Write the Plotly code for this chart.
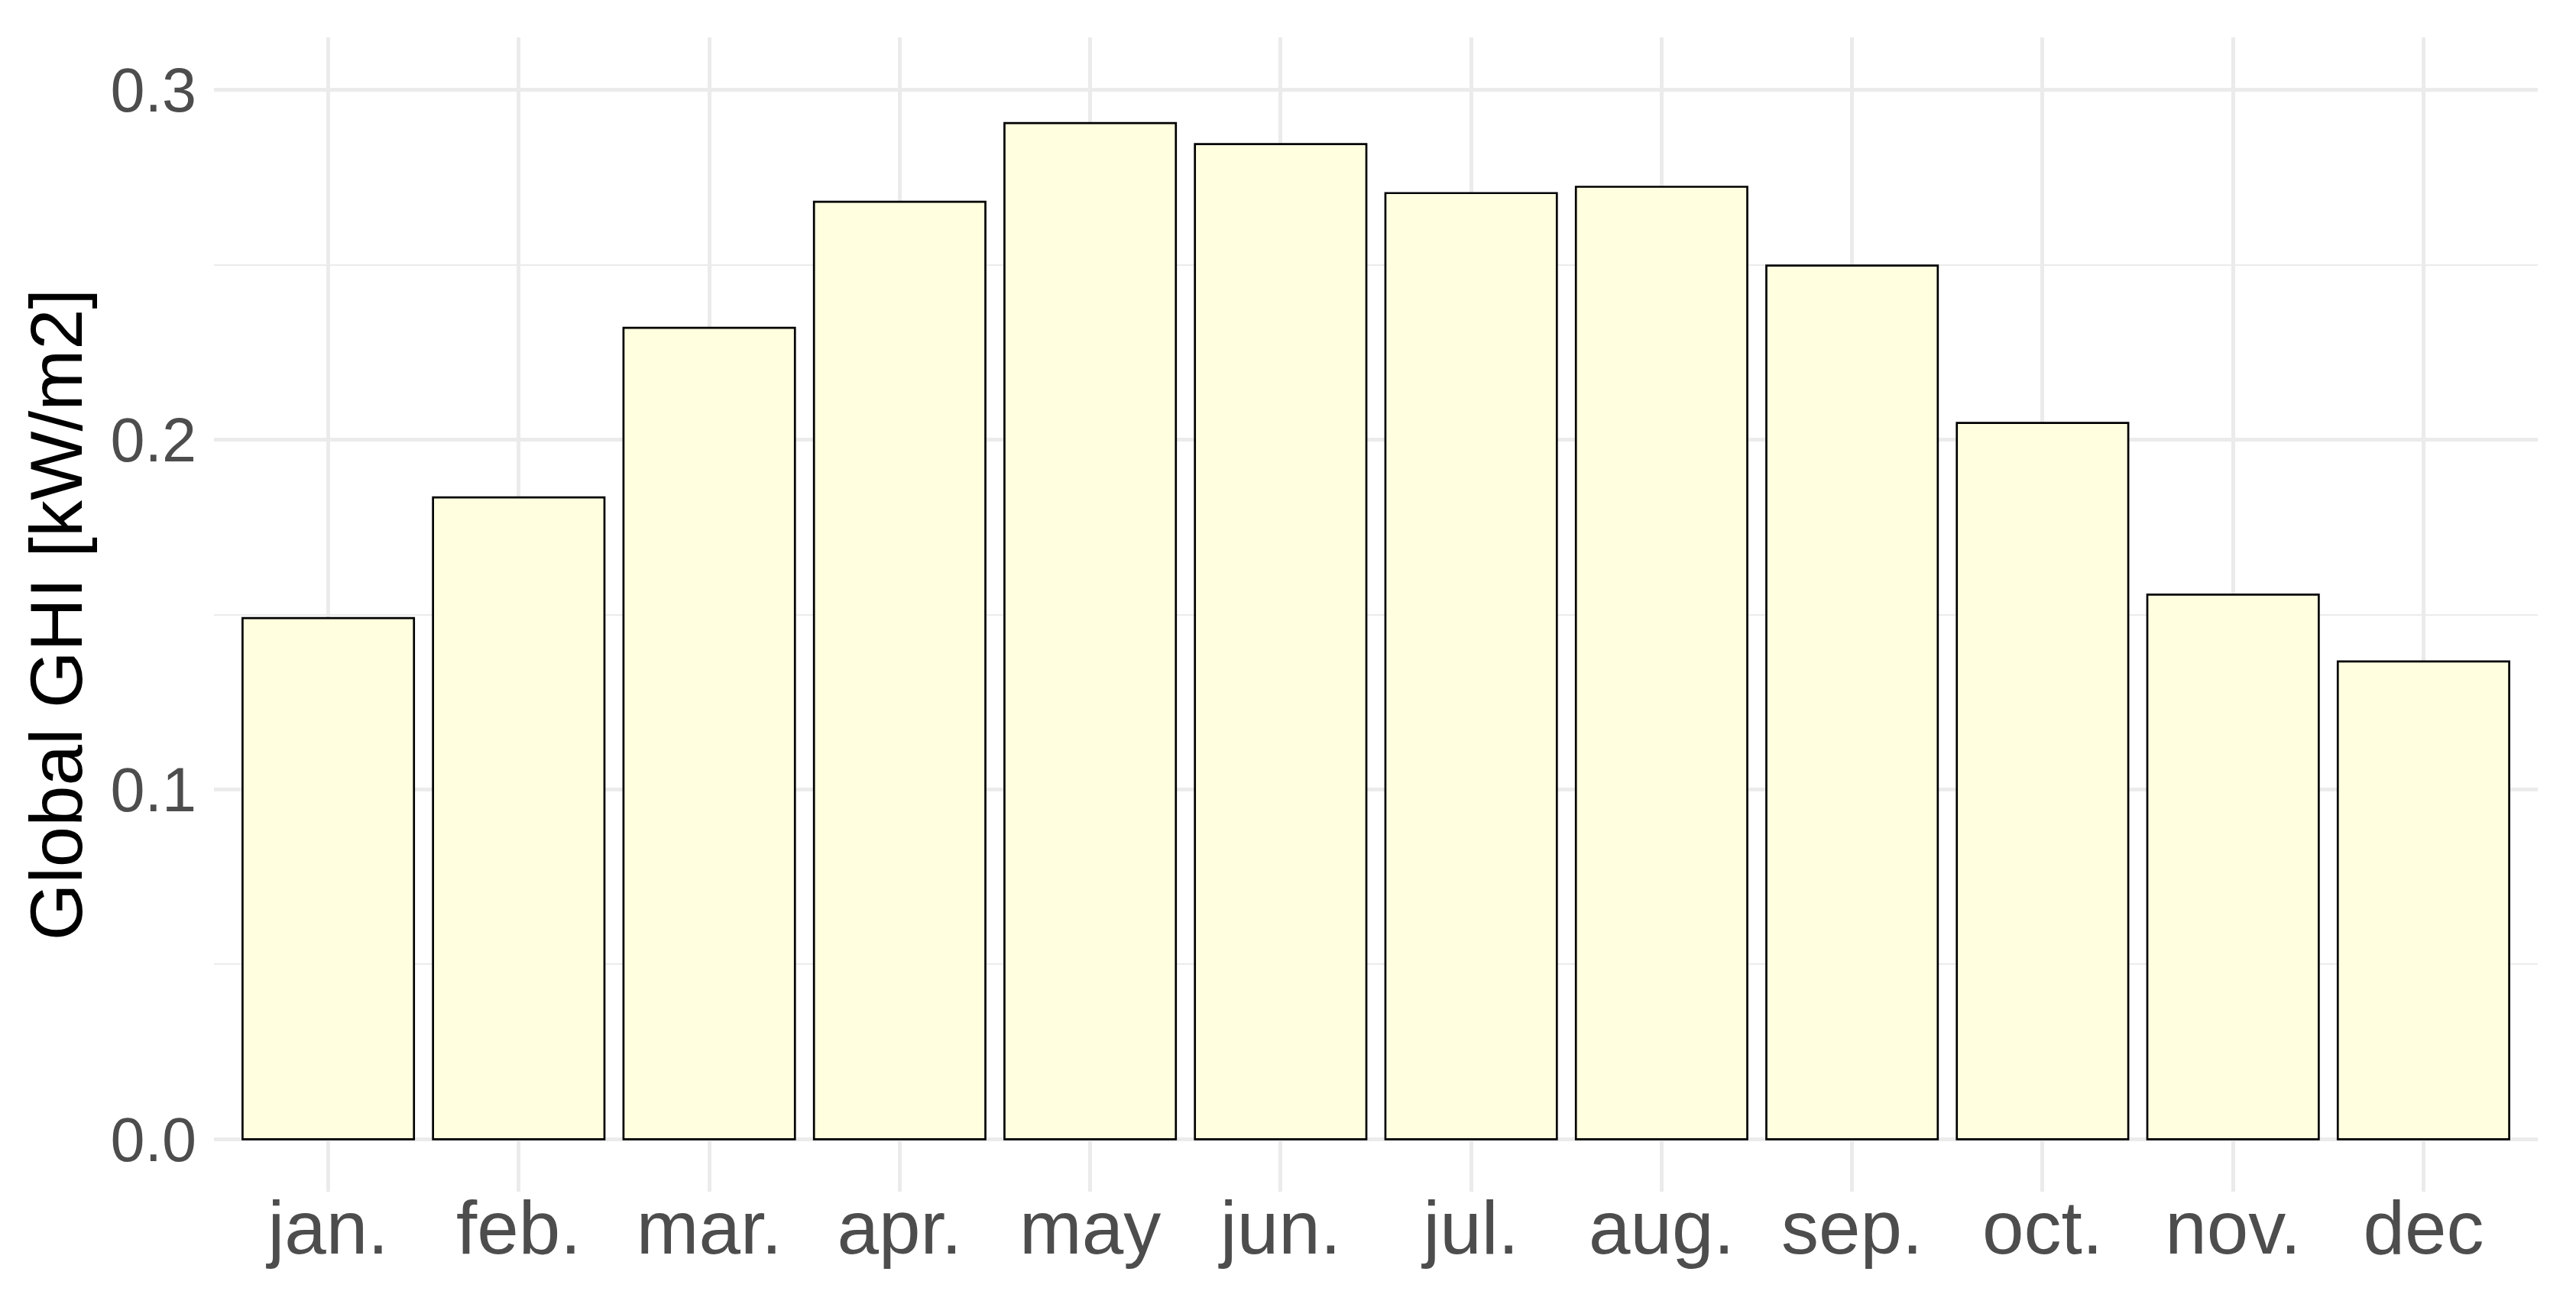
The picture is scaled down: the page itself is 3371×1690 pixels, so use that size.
import plotly.graph_objects as go

# monthly mean global horizontal irradiance
months = ["jan.", "feb.", "mar.", "apr.", "may", "jun.",
          "jul.", "aug.", "sep.", "oct.", "nov.", "dec"]
ghi = [0.149, 0.1835, 0.232, 0.268, 0.2905, 0.2845,
       0.2705, 0.2723, 0.2498, 0.2048, 0.1557, 0.1366]

y_ticks = [0.0, 0.1, 0.2, 0.3]
y_ticklabels = ["0.0", "0.1", "0.2", "0.3"]

font_family = "Liberation Sans, Arial, sans-serif"
grid_col = "#EBEBEB"

fig = go.Figure()
fig.add_trace(go.Bar(
    x=months,
    y=ghi,
    marker=dict(color="#FFFFE0", line=dict(color="black", width=2.7)),
    showlegend=False,
))

fig.update_layout(
    width=3371,
    height=1690,
    margin=dict(l=272, r=58, t=41, b=138),
    plot_bgcolor="white",
    paper_bgcolor="white",
    bargap=0.1,
    font=dict(family=font_family),
)

fig.update_xaxes(
    range=[-0.6, 11.6],
    automargin=False,
    showgrid=True,
    gridcolor=grid_col,
    gridwidth=4.5,
    showline=False,
    zeroline=False,
    ticks="",
    tickfont=dict(size=98, color="#4D4D4D", family=font_family),
    ticklabelstandoff=-18,
)

fig.update_yaxes(
    range=[-0.015, 0.315],
    automargin=False,
    tickvals=y_ticks,
    ticktext=y_ticklabels,
    showgrid=True,
    gridcolor=grid_col,
    gridwidth=4.5,
    minor=dict(dtick=0.05, tick0=0, showgrid=True, gridcolor=grid_col, gridwidth=2),
    zeroline=False,
    showline=False,
    ticks="",
    tickfont=dict(size=81, color="#4D4D4D", family=font_family),
    ticklabelstandoff=22,
    title=dict(text="Global GHI [kW/m2]",
               font=dict(size=96, color="black", family=font_family),
               standoff=4),
)

fig.write_html("out.html")
